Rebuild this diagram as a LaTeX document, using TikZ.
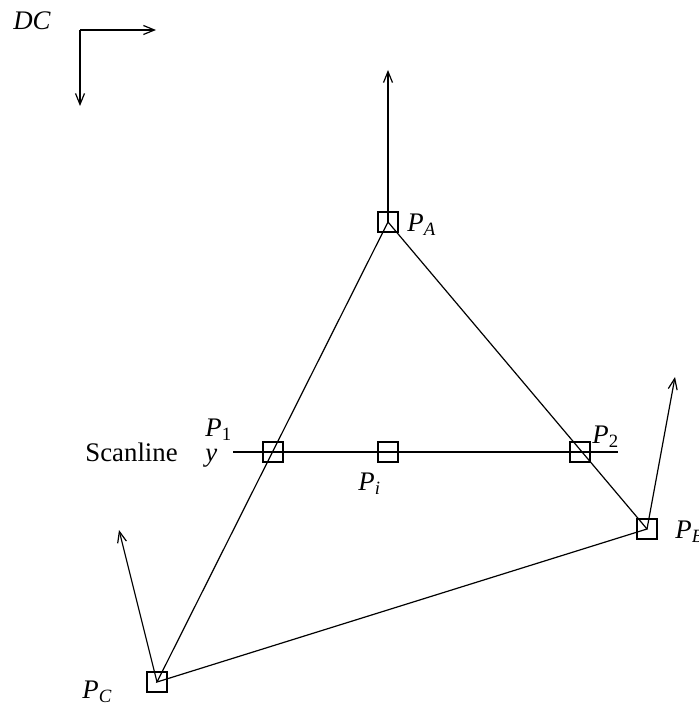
\documentclass[tikz,border=0pt]{standalone}
\usepackage{fontspec}
\setmainfont{Liberation Serif}
\usetikzlibrary{positioning,arrows.meta}

\begin{document}
\begin{tikzpicture}[
  x=0.5pt, y=-0.5pt,
  font=\fontsize{13.4}{16}\selectfont,
  >={Straight Barb[length=5.5pt,width=4.5pt]},
  sq/.style={draw, line width=0.6pt, minimum size=10pt, inner sep=0pt},
  arr/.style={->, line width=0.6pt},
  edge/.style={line width=0.6pt},
  lbl/.style={inner sep=0pt, anchor=base west},
]
\useasboundingbox (0,0) rectangle (698,706);

% device coordinate axes
\coordinate (dc) at (80,30);
\coordinate (dcx) at (156,30);
\coordinate (dcy) at (80,106);
\node[lbl] (dclbl) at (13,30) {\textit{DC}};
\draw[arr] (dc) -- (dcx);
\draw[arr] (dc) -- (dcy);

% triangle vertices
\node[sq] (pa) at (388,222) {};
\node[sq] (pb) at (647,529) {};
\node[sq] (pc) at (157,682) {};
\node[lbl] (palbl) at (407,231) {\textit{P}\textsubscript{\textit{A}}};
\node[lbl] (pblbl) at (675,538) {\textit{P}\textsubscript{\textit{B}}};
\node[lbl] (pclbl) at (82,698) {\textit{P}\textsubscript{\textit{C}}};

% normals
\coordinate (na) at (388,70);
\coordinate (nb) at (675,377);
\coordinate (nc) at (119,530);
\draw[arr] (pa.center) -- (na);
\draw[arr] (pb.center) -- (nb);
\draw[arr] (pc.center) -- (nc);

% edges
\draw[edge] (pa.center) -- (pb.center) -- (pc.center) -- cycle;

% scanline
\coordinate (sl) at (233,452);
\coordinate (sr) at (618,452);
\draw[edge] (sl) -- (sr);
\node[sq] (p1) at (273,452) {};
\node[sq] (pi) at (388,452) {};
\node[sq] (p2) at (580,452) {};
\node[lbl] (p1lbl) at (205,436) {\textit{P}\textsubscript{1}};
\node[lbl] (p2lbl) at (592,443) {\textit{P}\textsubscript{2}};
\node[lbl] (pilbl) at (358,490) {\textit{P}\textsubscript{\textit{i}}};
\node[lbl] (ylbl) at (205,461) {\textit{y}};
\node[lbl] (sllbl) at (85,461) {Scanline};
\end{tikzpicture}
\end{document}
